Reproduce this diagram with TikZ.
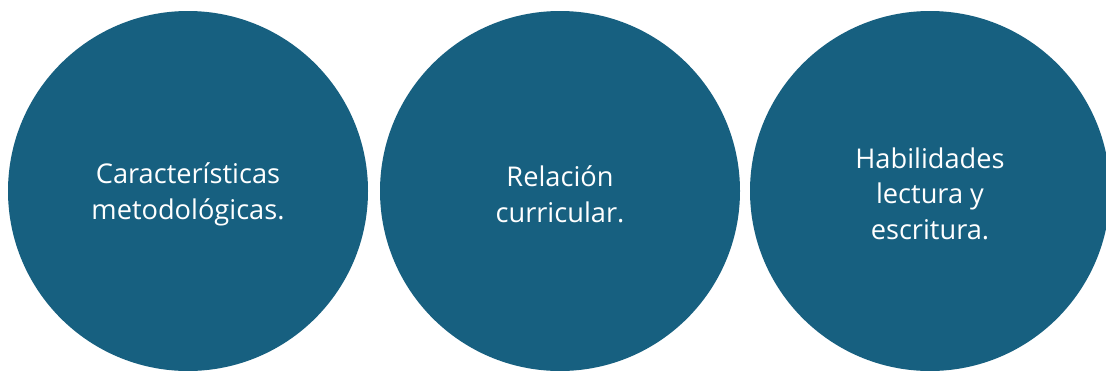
\documentclass[tikz,border=0pt]{standalone}
\usepackage{fontspec}
\setmainfont{Open Sans}
\definecolor{circ}{RGB}{23,96,128}
\begin{document}
\begin{tikzpicture}[x=1pt,y=-1pt,
  bubble/.style={circle,fill=circ,minimum size=360pt,inner sep=0pt},
  label/.style={text=white,align=center,font=\fontsize{27.2}{35.5}\selectfont}]
\useasboundingbox (0,0) rectangle (1106,370);
\begin{scope}
\clip (0,0) rectangle (1106,370);
\node[bubble] (c1) at (188,191) {};
\node[bubble] (c2) at (560,191) {};
\node[bubble] (c3) at (930,191) {};
\end{scope}
\node[label] (t1) at (188,194.5) {Características\\metodológicas.};
\node[label] (t2) at (560,194.5) {Relación\\curricular.};
\node[label] (t3) at (930,193.5) {Habilidades\\lectura y\\escritura.};
\end{tikzpicture}
\end{document}
